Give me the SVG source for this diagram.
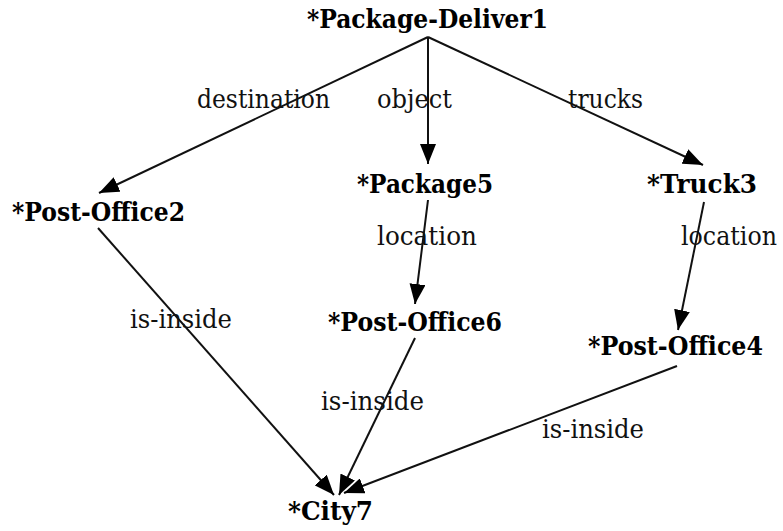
<svg xmlns="http://www.w3.org/2000/svg" width="783" height="531" viewBox="0 0 783 531">
<style>
.node{font-family:'DejaVu Serif','Liberation Serif',serif;font-weight:bold;font-size:26px;fill:#000}
.lbl{font-family:'DejaVu Serif','Liberation Serif',serif;font-size:26px;fill:#111}
.edge{stroke:#111;stroke-width:2;fill:none;marker-end:url(#ah)}
</style>
<defs>
<marker id="ah" markerUnits="userSpaceOnUse" markerWidth="22" markerHeight="16" refX="20" refY="8" orient="auto" viewBox="0 0 22 16">
<path d="M0,0 L20,8 L0,16 z" fill="#000"/>
</marker>
</defs>
<rect width="783" height="531" fill="#fff"/>
<g id="connectors">
<line class="edge" x1="428" y1="37" x2="99" y2="193"/>
<line class="edge" x1="428" y1="37" x2="428" y2="164"/>
<line class="edge" x1="428" y1="37" x2="703" y2="165"/>
<line class="edge" x1="428" y1="200" x2="415" y2="304"/>
<line class="edge" x1="704" y1="202" x2="678" y2="330"/>
<line class="edge" x1="98" y1="228" x2="334" y2="495"/>
<line class="edge" x1="415" y1="338" x2="339" y2="495"/>
<line class="edge" x1="677" y1="366" x2="344" y2="493"/>
</g>
<g id="edge-labels">
<text class="lbl" x="197" y="108" textLength="133" lengthAdjust="spacingAndGlyphs">destination</text>
<text class="lbl" x="377" y="108" textLength="75" lengthAdjust="spacingAndGlyphs">object</text>
<text class="lbl" x="568" y="108" textLength="75" lengthAdjust="spacingAndGlyphs">trucks</text>
<text class="lbl" x="377" y="245" textLength="100" lengthAdjust="spacingAndGlyphs">location</text>
<text class="lbl" x="681" y="245" font-size="24" textLength="96" lengthAdjust="spacingAndGlyphs">location</text>
<text class="lbl" x="130" y="328" textLength="102" lengthAdjust="spacingAndGlyphs">is-inside</text>
<text class="lbl" x="321" y="410" textLength="103" lengthAdjust="spacingAndGlyphs">is-inside</text>
<text class="lbl" x="542" y="438" textLength="102" lengthAdjust="spacingAndGlyphs">is-inside</text>
</g>
<g id="n1"><text class="node" x="307" y="28" textLength="241" lengthAdjust="spacingAndGlyphs">*Package-Deliver1</text></g>
<g id="n2"><text class="node" x="12" y="221" textLength="173" lengthAdjust="spacingAndGlyphs">*Post-Office2</text></g>
<g id="n5"><text class="node" x="357" y="193" textLength="136" lengthAdjust="spacingAndGlyphs">*Package5</text></g>
<g id="n3"><text class="node" x="647" y="193" textLength="110" lengthAdjust="spacingAndGlyphs">*Truck3</text></g>
<g id="n6"><text class="node" x="328" y="331" textLength="174" lengthAdjust="spacingAndGlyphs">*Post-Office6</text></g>
<g id="n4"><text class="node" x="588" y="355" textLength="175" lengthAdjust="spacingAndGlyphs">*Post-Office4</text></g>
<g id="n7"><text class="node" x="288" y="520" textLength="85" lengthAdjust="spacingAndGlyphs">*City7</text></g>
</svg>
